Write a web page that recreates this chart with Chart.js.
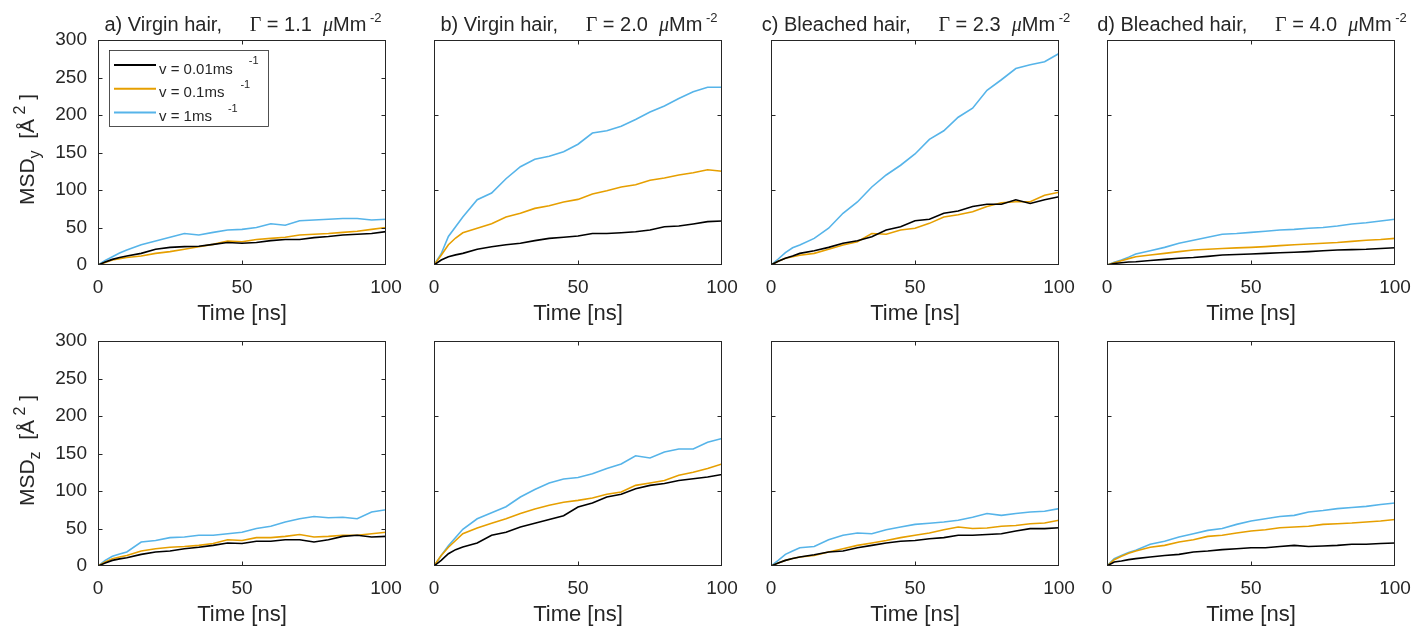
<!DOCTYPE html>
<html>
<head>
<meta charset="utf-8">
<script src="https://cdn.jsdelivr.net/npm/chart.js@4.4.1/dist/chart.umd.min.js"></script>
<style>
body { margin: 0; background: #fff; }
#wrap { position: relative; width: 1413px; height: 626px; overflow: hidden; }
canvas { position: absolute; }
</style>
</head>
<body>
<div id="wrap"></div>
<script>
// time axis [ns]
const time = [0, 2.5, 5, 7.5, 10, 15, 20, 25, 30, 35, 40, 45, 50, 55, 60, 65, 70, 75, 80, 85, 90, 95, 100];
const speeds = ['v = 0.01ms', 'v = 0.1ms', 'v = 1ms'];
const colors = ['#000000', '#E69F00', '#56B4E9'];
const panelNames = ['a) Virgin hair,', 'b) Virgin hair,', 'c) Bleached hair,', 'd) Bleached hair,'];
const gammas = ['1.1', '2.0', '2.3', '4.0'];
const xTicks = [0, 50, 100];

// MSD_y  (top row)
const yA_slow = [0, 4, 7.5, 10, 12, 15.5, 21, 23.5, 24.5, 25, 27.5, 30, 29, 30, 32.5, 34, 34, 36.5, 38, 40, 41, 42, 44.5];
const yA_mid  = [0, 3.5, 6.7, 8.5, 10, 12, 15.5, 17.8, 21, 24.4, 27.5, 32, 31, 34, 35.5, 37, 40, 41, 42, 43.5, 45, 47.5, 50];
const yA_fast = [0, 6, 11, 16, 20, 27, 32, 37, 42, 40, 43.5, 46.7, 47.5, 50, 55, 53, 59, 60, 61, 62, 62, 60, 61];

const yB_slow = [0, 6.7, 11, 13.5, 15.5, 21, 24.4, 27, 29, 32.5, 35.5, 37, 38.7, 42, 42, 43, 44.4, 46.7, 51, 52, 54.7, 57.8, 58.7];
const yB_mid  = [0, 13, 27, 36, 43, 49, 55, 64, 69, 75.5, 79, 84, 87.5, 94.7, 99, 104, 107, 113, 116, 120, 123, 127, 125];
const yB_fast = [0, 15, 38, 51, 64, 87, 96, 115, 131, 141, 145, 151, 161, 176, 179, 185, 194, 204, 212, 222, 231, 237, 237];

const yC_slow = [0, 5, 9, 12, 15.5, 19, 23.5, 29, 32.4, 37.8, 46.7, 51, 59, 61, 69, 72, 78, 81, 81, 87, 82, 87, 91];
const yC_mid  = [0, 5, 9, 11, 13, 15.5, 21, 26.7, 31, 42, 41, 46.7, 49, 55.5, 64, 67, 71, 78, 83, 84.4, 84.4, 93, 97];
const yC_fast = [0, 8, 16.4, 23, 26.7, 35.5, 49, 69, 84, 104, 120, 133, 148, 167.5, 179, 197, 209, 233, 247, 262, 267, 271, 282];

const yD_slow = [0, 2, 3, 4, 4.4, 6, 7.5, 9, 10, 11.5, 13.3, 14, 14.7, 15.5, 16.4, 17, 17.8, 19, 20, 20.5, 21, 22, 23];
const yD_mid  = [0, 3, 5.8, 8.5, 11, 13.3, 15.5, 17.8, 20, 21, 22, 22.8, 23.5, 24.5, 25.8, 27, 28, 29, 30, 31.5, 33, 34, 35.5];
const yD_fast = [0, 3.5, 6.7, 10.5, 14.7, 19, 23.5, 29, 33, 37, 41, 42, 43.5, 45, 46.7, 47.5, 49, 50, 52, 54.7, 56.4, 58.7, 61];

// MSD_z  (bottom row)
const zA_slow = [0, 4, 7.5, 9.5, 11, 15.5, 18.7, 20, 23, 25, 27.5, 30.7, 30, 33, 33, 35, 35, 32, 35, 39.5, 41, 38.7, 39.5];
const zA_mid  = [0, 5.5, 9.8, 12, 14, 20, 23, 25, 26, 27.5, 30, 35, 34, 37.8, 37.8, 39.5, 42, 38.7, 39.5, 41, 41, 43, 45];
const zA_fast = [0, 7.5, 13, 16, 18.7, 32, 34, 37.8, 38.7, 41, 41, 43, 45, 50, 53, 58.7, 63, 66, 64.4, 65, 63, 72, 75];

const zB_slow = [0, 7.5, 16.4, 21.8, 25.3, 30.7, 41, 45, 52, 57, 62, 67, 78.7, 84, 92, 95.6, 103, 107.5, 110, 114, 116.4, 118.7, 122];
const zB_mid  = [0, 14, 25, 34, 43, 50.7, 57, 63, 70, 76, 81, 85, 87.5, 90.7, 95.6, 98.7, 107.5, 110.7, 114, 121, 125, 130, 136];
const zB_fast = [0, 14, 27, 38, 49, 63, 71, 79, 92, 102, 110.7, 116, 118, 123, 130, 136, 147, 144, 152, 156, 156, 165, 170];

const zC_slow = [0, 4, 7.5, 10, 12, 15, 18.7, 20, 24.4, 27.5, 30.7, 33, 34, 36.4, 37.8, 41, 41, 42, 43, 46.7, 49.8, 49.8, 51];
const zC_mid  = [0, 4, 7.5, 10, 12, 14, 18.7, 23, 27.5, 30.7, 34, 37.8, 41, 44, 48.4, 52, 50, 50.7, 53, 54, 56.4, 57.3, 61];
const zC_fast = [0, 7.5, 15.5, 20, 24.4, 26, 35, 41, 44, 43, 48.4, 52, 55.5, 57, 58.7, 61, 65, 70, 67.5, 70, 72, 73, 76.5];

const zD_slow = [0, 5.3, 6.7, 8.5, 9.8, 12, 14, 15.5, 18.7, 20, 21.8, 23, 24.4, 24.4, 26, 27.5, 26, 26.7, 27.5, 29, 29, 30, 30.7];
const zD_mid  = [0, 8.4, 13, 17, 20, 25, 27.5, 32, 35, 39.5, 41, 44, 46.7, 48.4, 51, 52, 53, 55.5, 56.4, 57.3, 58.7, 60, 62];
const zD_fast = [0, 9.8, 14, 18, 21, 29, 33, 38.7, 43, 47.5, 50, 55.5, 60, 63, 66, 67.5, 72, 74, 76.5, 78, 79.5, 82, 84];

const panels = [
  [[yA_slow, yA_mid, yA_fast], [yB_slow, yB_mid, yB_fast], [yC_slow, yC_mid, yC_fast], [yD_slow, yD_mid, yD_fast]],
  [[zA_slow, zA_mid, zA_fast], [zB_slow, zB_mid, zB_fast], [zC_slow, zC_mid, zC_fast], [zD_slow, zD_mid, zD_fast]]
];

// plot box positions in the page
const plotLeft = [98, 434, 771, 1107];
const plotTop = [40, 341];
const PW = 288, PH = 225, YW = 98, TOPPAD = 40, RPAD = 16, XH = 60;

const SANS = '"Liberation Sans", Arial, Helvetica, sans-serif';
const SERIF = '"Liberation Serif", "Times New Roman", serif';
const INK = '#262626';
Chart.defaults.font.family = SANS;
Chart.defaults.color = INK;

function drawRich(ctx, segs, x, y) {
  let total = 0;
  segs.forEach(s => { ctx.font = s.font; s.w = ctx.measureText(s.text).width; total += s.w; });
  let cx = x - total / 2;
  segs.forEach(s => { ctx.font = s.font; ctx.fillText(s.text, cx, y + (s.dy || 0)); cx += s.w; });
}

const deco = {
  id: 'deco',
  afterDatasetsDraw(chart, args, o) {
    const ctx = chart.ctx, a = chart.chartArea, xs = chart.scales.x, ys = chart.scales.y;
    ctx.save();
    // box + inward ticks
    ctx.strokeStyle = INK;
    ctx.lineWidth = 1;
    const L = Math.round(a.left) + 0.5, R = Math.round(a.right) - 0.5;
    const T = Math.round(a.top) + 0.5, B = Math.round(a.bottom) - 0.5;
    ctx.strokeRect(L, T, R - L, B - T);
    ctx.beginPath();
    xs.ticks.forEach(t => {
      const p = Math.round(xs.getPixelForValue(t.value)) + 0.5;
      if (p > L + 1 && p < R - 1) { ctx.moveTo(p, B); ctx.lineTo(p, B - 4); ctx.moveTo(p, T); ctx.lineTo(p, T + 4); }
    });
    ys.ticks.forEach(t => {
      const p = Math.round(ys.getPixelForValue(t.value)) + 0.5;
      if (p > T + 1 && p < B - 1) { ctx.moveTo(L, p); ctx.lineTo(L + 4, p); ctx.moveTo(R, p); ctx.lineTo(R - 4, p); }
    });
    ctx.stroke();

    ctx.fillStyle = INK;
    ctx.textBaseline = 'alphabetic';
    const cx = (a.left + a.right) / 2;
    // title
    if (o.title) {
      drawRich(ctx, [
        { text: o.title + '     ', font: '20px ' + SANS },
        { text: 'Γ', font: '20px ' + SERIF },
        { text: ' = ' + o.gamma + '  ', font: '20px ' + SANS },
        { text: 'μ', font: 'italic 20px ' + SERIF },
        { text: 'Mm', font: '20px ' + SANS },
        { text: ' -2', font: '13px ' + SANS, dy: -9 }
      ], cx + 1, a.top - 9);
    }
    // x label
    drawRich(ctx, [{ text: 'Time [ns]', font: '22px ' + SANS }], cx, a.bottom + 55);
    // y label
    if (o.ySub) {
      ctx.save();
      ctx.translate(34, (a.top + a.bottom) / 2 - 3);
      ctx.rotate(-Math.PI / 2);
      drawRich(ctx, [
        { text: 'MSD', font: '21px ' + SANS },
        { text: o.ySub, font: '16px ' + SANS, dy: 6 },
        { text: '  [Å', font: '21px ' + SANS },
        { text: ' 2', font: '16px ' + SANS, dy: -9 },
        { text: ' ]', font: '21px ' + SANS }
      ], 0, 0);
      ctx.restore();
    }
    // legend
    if (o.legend) {
      ctx.fillStyle = '#fff';
      ctx.fillRect(109.5, 50.5, 159, 76);
      ctx.strokeStyle = INK;
      ctx.lineWidth = 0.8;
      ctx.strokeRect(109.5, 50.5, 159, 76);
      chart.data.datasets.forEach((ds, i) => {
        const ly = 65 + i * 23.8;
        ctx.strokeStyle = ds.borderColor;
        ctx.lineWidth = 2;
        ctx.beginPath(); ctx.moveTo(114, ly); ctx.lineTo(156, ly); ctx.stroke();
        ctx.fillStyle = INK;
        ctx.font = '15px ' + SANS;
        ctx.fillText(ds.label, 159, ly + 8.5);
        const w = ctx.measureText(ds.label).width;
        ctx.font = '11px ' + SANS;
        ctx.fillText('-1', 159 + w + 16, ly - 1);
      });
    }
    ctx.restore();
  }
};

const wrap = document.getElementById('wrap');
panels.forEach((row, r) => {
  row.forEach((series, c) => {
    const cv = document.createElement('canvas');
    const W = YW + PW + RPAD, H = TOPPAD + PH + XH;
    cv.width = W; cv.height = H;
    cv.style.width = W + 'px'; cv.style.height = H + 'px';
    cv.style.left = (plotLeft[c] - YW) + 'px';
    cv.style.top = (plotTop[r] - TOPPAD) + 'px';
    wrap.appendChild(cv);

    new Chart(cv, {
      type: 'line',
      data: {
        datasets: series.map((vals, i) => ({
          label: speeds[i],
          data: time.map((t, k) => ({ x: t, y: vals[k] })),
          borderColor: colors[i],
          borderWidth: 1.6,
          pointRadius: 0,
          tension: 0,
          fill: false
        }))
      },
      options: {
        responsive: false,
        animation: false,
        events: [],
        layout: { padding: { top: TOPPAD, right: RPAD, left: 0, bottom: 0 } },
        scales: {
          x: {
            type: 'linear', min: 0, max: 100,
            afterBuildTicks: s => { s.ticks = xTicks.map(v => ({ value: v })); },
            afterFit: s => { s.height = XH; s.paddingLeft = 0; s.paddingRight = 0; },
            grid: { display: false },
            border: { display: false },
            ticks: { font: { size: 19 }, padding: 3, maxRotation: 0, color: INK }
          },
          y: {
            min: 0, max: 300,
            afterFit: s => { s.width = YW; s.paddingTop = 0; s.paddingBottom = 0; },
            grid: { display: false },
            border: { display: false },
            ticks: { stepSize: c === 0 ? 50 : 100, display: c === 0, font: { size: 19 }, padding: 3, color: INK }
          }
        },
        plugins: {
          legend: { display: false },
          tooltip: { enabled: false },
          deco: {
            title: r === 0 ? panelNames[c] : null,
            gamma: gammas[c],
            ySub: c === 0 ? (r === 0 ? 'y' : 'z') : null,
            legend: r === 0 && c === 0
          }
        }
      },
      plugins: [deco]
    });
  });
});
</script>
</body>
</html>
